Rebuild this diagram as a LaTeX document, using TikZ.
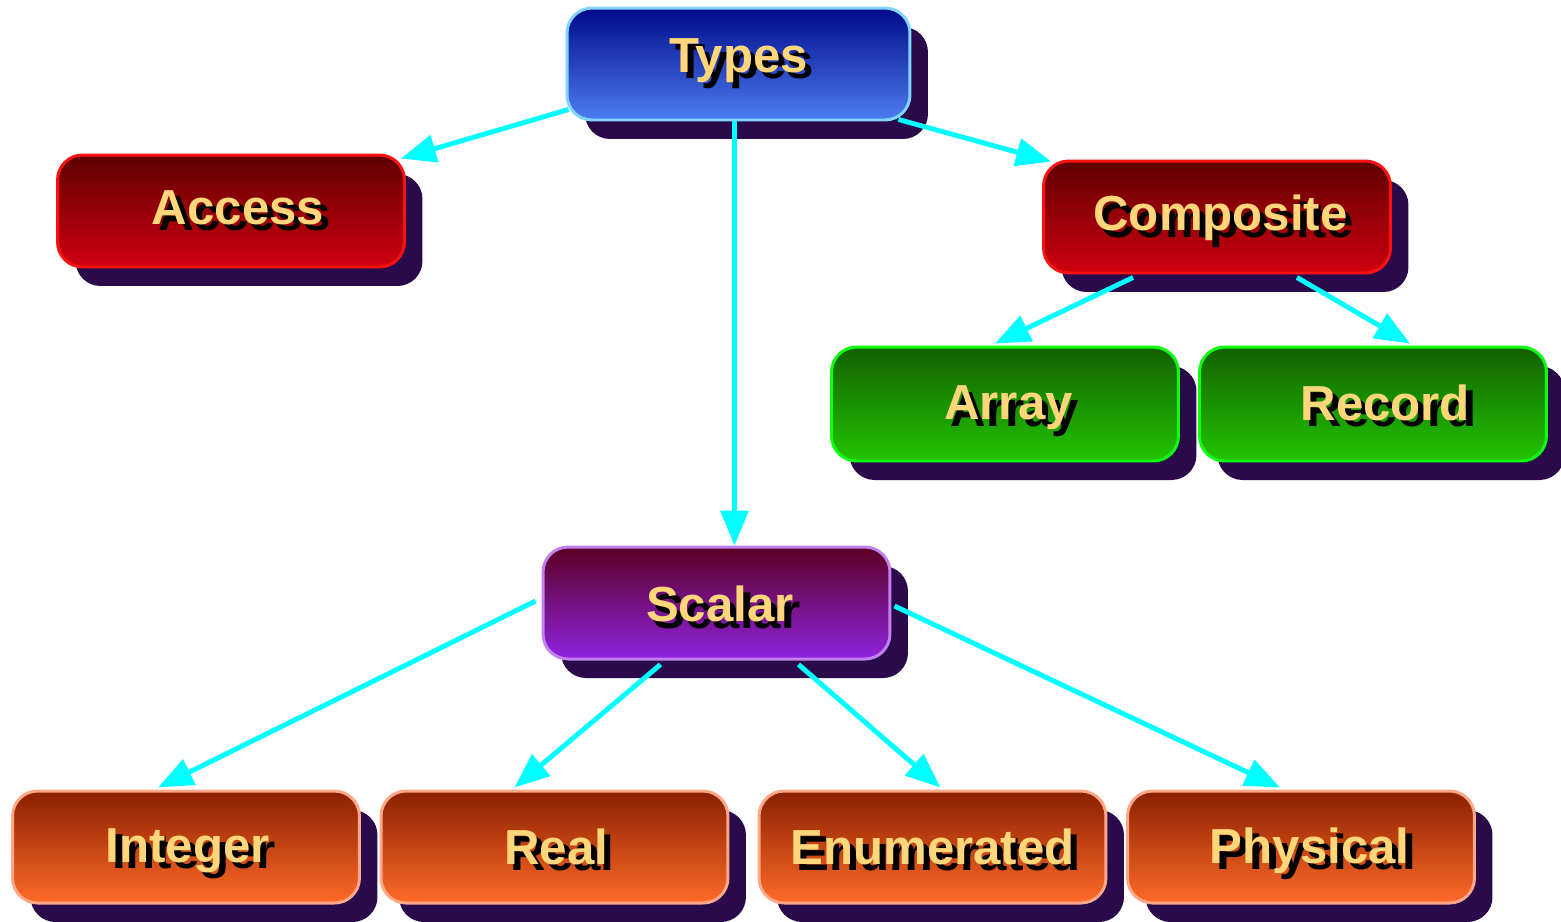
\documentclass[tikz,border=0pt]{standalone}
\usepackage{fontspec}
\setmainfont{Liberation Sans}
\usetikzlibrary{calc,shadows,arrows.meta}
\definecolor{shd}{HTML}{2A0A4A}
\definecolor{txt}{HTML}{FFD77A}
\definecolor{cy}{HTML}{00FFFF}
\definecolor{bluetop}{HTML}{000A8A}\definecolor{bluebot}{HTML}{4C7CF0}\definecolor{blueln}{HTML}{80D4FF}
\definecolor{redtop}{HTML}{5E0000}\definecolor{redbot}{HTML}{D00010}\definecolor{redln}{HTML}{FF1010}
\definecolor{grntop}{HTML}{126000}\definecolor{grnbot}{HTML}{22C400}\definecolor{grnln}{HTML}{10FF10}
\definecolor{purtop}{HTML}{5C0022}\definecolor{purbot}{HTML}{9022E0}\definecolor{purln}{HTML}{C080F0}
\definecolor{orgtop}{HTML}{8A2000}\definecolor{orgbot}{HTML}{FF6A28}\definecolor{orgln}{HTML}{FFA888}
\newcommand\shtext[3][0pt]{\leavevmode\kern#1\raisebox{#2}[\height][\depth]{\rlap{\kern 3.6pt\raisebox{-3.6pt}{\color{black}#3}}{\color{txt}#3}}}
\tikzset{
  box/.style={rounded corners=0.5cm, minimum width=6.94cm, minimum height=2.24cm,
    line width=1.7pt, font=\fontsize{28}{30}\selectfont\bfseries,
    general shadow={shadow xshift=0.36cm, shadow yshift=-0.38cm, fill=shd, draw=none}},
  bluebox/.style={box, top color=bluetop, bottom color=bluebot, draw=blueln},
  redbox/.style={box, top color=redtop, bottom color=redbot, draw=redln},
  grnbox/.style={box, top color=grntop, bottom color=grnbot, draw=grnln},
  purbox/.style={box, top color=purtop, bottom color=purbot, draw=purln},
  orgbox/.style={box, top color=orgtop, bottom color=orgbot, draw=orgln},
  conn/.style={draw=cy, line width=2.8pt, -{Triangle[length=0.7cm,width=0.55cm]}}
}
\begin{document}
\begin{tikzpicture}[x=0.02cm,y=-0.02cm]
\useasboundingbox (0,0) rectangle (1561,921);
\node[bluebox, minimum width=6.86cm] (types) at (738.5,64) {\shtext{0pt}{Types}};
\node[redbox] (access) at (231,211) {\shtext[8pt]{0pt}{Access}};
\node[redbox] (composite) at (1217,217) {\shtext[4pt]{-2.5pt}{Composite}};
\node[grnbox, minimum height=2.28cm] (array) at (1005,404) {\shtext[4pt]{-4pt}{Array}};
\node[grnbox, minimum height=2.28cm] (record) at (1373,404) {\shtext[14pt]{-1pt}{Record}};
\node[purbox] (scalar) at (716.5,603) {\shtext[4pt]{-2.5pt}{Scalar}};
\node[orgbox] (integer) at (186,847) {\shtext[2pt]{-4pt}{Integer}};
\node[orgbox] (real) at (554.5,847) {\shtext[2pt]{-1.5pt}{Real}};
\node[orgbox] (enumerated) at (932.5,847) {\shtext{-1.5pt}{Enumerated}};
\node[orgbox] (physical) at (1301,847) {\shtext[10pt]{-4pt}{Physical}};

\draw[conn] ($(types.south west)+(3,-12)$) -- ($(access.north east)+(-5,5)$);
\draw[conn] ($(types.south east)+(-13,-2)$) -- ($(composite.north west)+(9,2)$);
\draw[conn] ($(types.south)+(-4,0)$) -- ($(scalar.north)+(18,0)$);
\draw[conn] ($(composite.south)+(-84,3)$) -- ($(array.north)+(-10,-2)$);
\draw[conn] ($(composite.south)+(80,3)$) -- ($(record.north)+(37,-2)$);
\draw[conn] ($(scalar.west)+(-6,-2)$) -- ($(integer.north)+(-28,-2)$);
\draw[conn] ($(scalar.south)+(-56,4)$) -- ($(real.north)+(-40,-2)$);
\draw[conn] ($(scalar.south)+(82,4)$) -- ($(enumerated.north)+(8,-2)$);
\draw[conn] ($(scalar.east)+(3,3)$) -- ($(physical.north)+(-21,-2)$);
\end{tikzpicture}
\end{document}
